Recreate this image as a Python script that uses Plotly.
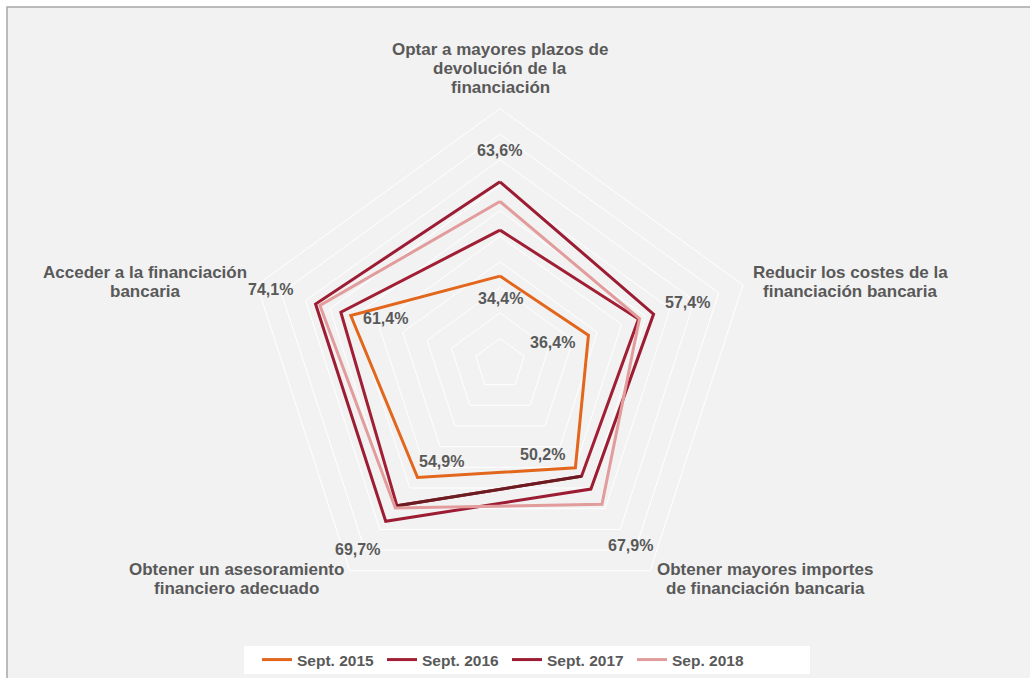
import plotly.graph_objects as go

# Categories (clockwise from the top)
categories = [
    'Optar a mayores plazos de<br>devolución de la<br>financiación',
    'Reducir los costes de la<br>financiación bancaria',
    'Obtener mayores importes<br>de financiación bancaria',
    'Obtener un asesoramiento<br>financiero adecuado',
    'Acceder a la financiación<br>bancaria',
]

series_names = ['Sept. 2015', 'Sept. 2016', 'Sept. 2017', 'Sep. 2018']
sept_2015 = [34.4, 36.4, 50.2, 54.9, 61.4]
sept_2016 = [52.4, 57.0, 54.3, 68.6, 65.5]
sept_2017 = [71.3, 63.2, 60.5, 76.1, 75.9]
sep_2018 = [63.6, 57.4, 67.9, 69.7, 74.1]

colors = ['#E2661C', '#A01F35', '#9C1C33', '#E29C9C']

W, H = 1030, 678
text_color = '#595959'
font_family = 'Liberation Sans'

fig = go.Figure()
for name, vals, col in zip(series_names[:3], [sept_2015, sept_2016, sept_2017], colors[:3]):
    fig.add_trace(go.Scatterpolar(
        r=vals + [vals[0]],
        theta=categories + [categories[0]],
        mode='lines',
        name=name,
        line=dict(color=col, width=3),
    ))

# darker segment of the 2016 line, as in the original
fig.add_trace(go.Scatterpolar(
    r=sept_2016[2:4],
    theta=categories[2:4],
    mode='lines',
    line=dict(color='#6A1C20', width=3),
    showlegend=False,
    hoverinfo='skip',
))

fig.add_trace(go.Scatterpolar(
    r=sep_2018 + [sep_2018[0]],
    theta=categories + [categories[0]],
    mode='lines',
    name=series_names[3],
    line=dict(color=colors[3], width=3),
))

# pixel positions of the labels (layout only)
cat_pos = [(500, 68.5), (850, 282), (765, 579), (236, 579), (145, 282)]
line_step = 19.3
lab_2015_pos = [(500, 298), (552, 342), (542, 454), (441, 461), (385, 318)]
lab_2018_pos = [(499, 151), (687, 303), (630, 545), (357, 549), (270, 290)]

annotations = []
for txt, (px, py) in zip(categories, cat_pos):
    lines = txt.split('<br>')
    n = len(lines)
    for i, ln in enumerate(lines):
        ly = py + (i - (n - 1) / 2) * line_step
        annotations.append(dict(x=px / W, y=1 - ly / H, xref='paper', yref='paper',
                                text=ln, showarrow=False, xanchor='center', yanchor='middle',
                                font=dict(size=17, color=text_color, family=font_family, weight='bold')))
for vals, positions in [(sept_2015, lab_2015_pos), (sep_2018, lab_2018_pos)]:
    for v, (px, py) in zip(vals, positions):
        annotations.append(dict(x=px / W, y=1 - py / H, xref='paper', yref='paper',
                                text=f'{v:.1f}%'.replace('.', ','), showarrow=False,
                                xanchor='center', yanchor='middle',
                                font=dict(size=16, color=text_color, family=font_family, weight='bold')))

cx, cy, rad = 500, 364, 255.5
fig.update_layout(
    width=W, height=H,
    margin=dict(l=0, r=0, t=0, b=0),
    paper_bgcolor='white',
    font=dict(family=font_family, color=text_color, weight='bold'),
    polar=dict(
        domain=dict(x=[(cx - rad) / W, (cx + rad) / W], y=[1 - (cy + rad) / H, 1 - (cy - rad) / H]),
        bgcolor='rgba(0,0,0,0)',
        gridshape='linear',
        radialaxis=dict(range=[0, 100], dtick=10, showticklabels=False, ticks='',
                        showline=False, gridcolor='white', gridwidth=1),
        angularaxis=dict(direction='clockwise', rotation=90, showticklabels=False, ticks='',
                         showgrid=False, showline=True, linecolor='white', linewidth=1),
    ),
    shapes=[
        dict(type='rect', xref='paper', yref='paper', layer='below',
             x0=7 / W, x1=1.02, y0=-0.02, y1=1 - 7 / H,
             fillcolor='#F2F2F2', line=dict(color='#A6A6A6', width=1.5)),
        dict(type='rect', xref='paper', yref='paper', layer='below',
             x0=244 / W, x1=810 / W, y0=1 - 674 / H, y1=1 - 646 / H,
             fillcolor='white', line=dict(width=0)),
    ],
    legend=dict(orientation='h', x=257 / W, y=1 - 660 / H, xanchor='left', yanchor='middle',
                bgcolor='rgba(0,0,0,0)', font=dict(size=15.5, color=text_color, weight='bold'),
                itemwidth=30, entrywidth=80, entrywidthmode='pixels', traceorder='normal'),
    annotations=annotations,
    showlegend=True,
)

fig.write_html('out.html', config={'displayModeBar': False},
               post_script="document.body.style.margin='0';")
